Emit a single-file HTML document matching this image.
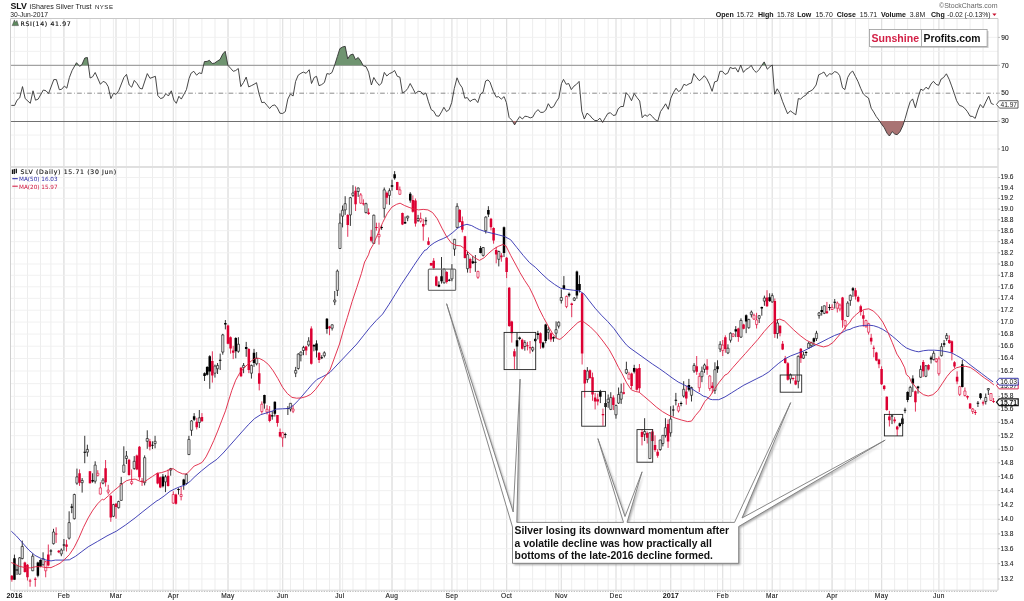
<!DOCTYPE html>
<html><head><meta charset="utf-8"><title>SLV iShares Silver Trust</title>
<style>html,body{margin:0;padding:0;background:#fff}body{width:1024px;height:601px;overflow:hidden}</style></head>
<body>
<svg width="1024" height="601" viewBox="0 0 1024 601" style="display:block">
<rect width="1024" height="601" fill="#fff"/>
<path d="M14.4 18.5V590.2M27.5 18.5V590.2M40.5 18.5V590.2M50.9 18.5V590.2M63.9 18.5V590.2M76.9 18.5V590.2M90.0 18.5V590.2M100.4 18.5V590.2M113.4 18.5V590.2M126.4 18.5V590.2M139.4 18.5V590.2M152.5 18.5V590.2M162.9 18.5V590.2M175.9 18.5V590.2M188.9 18.5V590.2M201.9 18.5V590.2M215.0 18.5V590.2M228.0 18.5V590.2M241.0 18.5V590.2M254.0 18.5V590.2M267.0 18.5V590.2M280.1 18.5V590.2M290.5 18.5V590.2M303.5 18.5V590.2M316.5 18.5V590.2M329.5 18.5V590.2M342.6 18.5V590.2M353.0 18.5V590.2M366.0 18.5V590.2M379.0 18.5V590.2M392.0 18.5V590.2M405.1 18.5V590.2M418.1 18.5V590.2M431.1 18.5V590.2M444.1 18.5V590.2M457.1 18.5V590.2M467.5 18.5V590.2M480.6 18.5V590.2M493.6 18.5V590.2M506.6 18.5V590.2M519.6 18.5V590.2M532.6 18.5V590.2M545.7 18.5V590.2M558.7 18.5V590.2M571.7 18.5V590.2M584.7 18.5V590.2M597.7 18.5V590.2M608.2 18.5V590.2M621.2 18.5V590.2M634.2 18.5V590.2M647.2 18.5V590.2M660.2 18.5V590.2M670.7 18.5V590.2M681.1 18.5V590.2M694.1 18.5V590.2M704.5 18.5V590.2M717.5 18.5V590.2M730.6 18.5V590.2M743.6 18.5V590.2M756.6 18.5V590.2M767.0 18.5V590.2M780.0 18.5V590.2M793.0 18.5V590.2M806.1 18.5V590.2M819.1 18.5V590.2M832.1 18.5V590.2M845.1 18.5V590.2M855.5 18.5V590.2M868.6 18.5V590.2M881.6 18.5V590.2M894.6 18.5V590.2M907.6 18.5V590.2M920.6 18.5V590.2M933.7 18.5V590.2M944.1 18.5V590.2M957.1 18.5V590.2M970.1 18.5V590.2M983.1 18.5V590.2" stroke="#ebebeb" stroke-width="0.9" fill="none"/>
<path d="M63.9 18.5V590.2M116.0 18.5V590.2M173.3 18.5V590.2M228.0 18.5V590.2M282.7 18.5V590.2M339.9 18.5V590.2M392.0 18.5V590.2M451.9 18.5V590.2M506.6 18.5V590.2M561.3 18.5V590.2M616.0 18.5V590.2M670.7 18.5V590.2M722.7 18.5V590.2M772.2 18.5V590.2M832.1 18.5V590.2M881.6 18.5V590.2M938.9 18.5V590.2" stroke="#e0e0e0" stroke-width="1.2" fill="none"/>
<path d="M10.5 579.0H998.0M10.5 563.7H998.0M10.5 548.7H998.0M10.5 533.9H998.0M10.5 519.3H998.0M10.5 504.8H998.0M10.5 490.6H998.0M10.5 476.6H998.0M10.5 462.8H998.0M10.5 449.2H998.0M10.5 435.7H998.0M10.5 422.4H998.0M10.5 409.3H998.0M10.5 396.4H998.0M10.5 383.6H998.0M10.5 371.0H998.0M10.5 358.5H998.0M10.5 346.2H998.0M10.5 334.1H998.0M10.5 322.1H998.0M10.5 310.2H998.0M10.5 298.4H998.0M10.5 286.8H998.0M10.5 275.3H998.0M10.5 264.0H998.0M10.5 252.8H998.0M10.5 241.7H998.0M10.5 230.7H998.0M10.5 219.8H998.0M10.5 209.1H998.0M10.5 198.4H998.0M10.5 187.9H998.0M10.5 177.5H998.0" stroke="#efefef" stroke-width="0.9" fill="none"/>
<path d="M10.5 149.0H998.0M10.5 135.1H998.0M10.5 107.2H998.0M10.5 79.2H998.0M10.5 51.4H998.0M10.5 37.4H998.0" stroke="#efefef" stroke-width="0.9" fill="none"/>
<path d="M10.5 65.3H998.0" stroke="#a2a2a2" stroke-width="1.2" fill="none"/>
<path d="M10.5 121.5H998.0" stroke="#707070" stroke-width="1" fill="none"/>
<path d="M10.5 93.2H998.0" stroke="#8c8c8c" stroke-width="1" stroke-dasharray="4.7 2.3 0.8 2.3" stroke-dashoffset="4.1" fill="none"/>
<path d="M10.5 18.5H998.0" stroke="#c8c8c8" stroke-width="1" fill="none"/>
<path d="M10.5 18.5V590.2M998.0 18.5V590.2" stroke="#cfcfcf" stroke-width="1" fill="none"/>
<path d="M10.5 167H998.0" stroke="#e0e0e0" stroke-width="2" fill="none"/>
<path d="M10.5 590.2H998.0" stroke="#d6d6d6" stroke-width="1" fill="none"/>
<path d="M13.80 591.4H998.0" stroke="#b0b0b0" stroke-width="0.9" stroke-dasharray="1.3 1.304" fill="none"/>
<path d="M998.0 579.0h2M998.0 563.7h2M998.0 548.7h2M998.0 533.9h2M998.0 519.3h2M998.0 504.8h2M998.0 490.6h2M998.0 476.6h2M998.0 462.8h2M998.0 449.2h2M998.0 435.7h2M998.0 422.4h2M998.0 409.3h2M998.0 396.4h2M998.0 383.6h2M998.0 371.0h2M998.0 358.5h2M998.0 346.2h2M998.0 334.1h2M998.0 322.1h2M998.0 310.2h2M998.0 298.4h2M998.0 286.8h2M998.0 275.3h2M998.0 264.0h2M998.0 252.8h2M998.0 241.7h2M998.0 230.7h2M998.0 219.8h2M998.0 209.1h2M998.0 198.4h2M998.0 187.9h2M998.0 177.5h2M998.0 149.0h2M998.0 121.1h2M998.0 93.2h2M998.0 65.3h2M998.0 37.4h2" stroke="#bbb" stroke-width="1" fill="none"/>
<path d="M75.0 65.3L76.5 62.7L78.7 65.3Z" fill="#6f9470"/>
<path d="M81.0 65.3L81.9 64.7L84.8 58.0L87.4 57.5L88.4 65.3Z" fill="#6f9470"/>
<path d="M203.6 65.3L204.4 61.6L207.1 61.4L209.4 60.3L212.2 63.5L214.6 63.1L217.4 61.1L220.0 59.5L222.7 54.1L225.2 51.3L227.9 65.3L227.9 65.3Z" fill="#6f9470"/>
<path d="M334.6 65.3L334.7 65.0L337.4 56.4L339.9 48.6L342.5 47.0L345.2 46.3L347.7 58.8L350.3 54.9L353.0 54.1L355.5 59.5L358.2 57.5L360.8 61.1L363.0 65.3Z" fill="#6f9470"/>
<path d="M740.6 65.3L740.7 65.0L740.8 65.3Z" fill="#6f9470"/>
<path d="M751.2 65.3L751.2 65.3L751.2 65.3Z" fill="#6f9470"/>
<path d="M761.8 65.3L764.2 61.9L765.6 65.3Z" fill="#6f9470"/>
<path d="M771.9 65.3L772.3 65.0L772.3 65.3Z" fill="#6f9470"/>
<path d="M512.4 121.1L514.6 124.9L516.8 121.1Z" fill="#a97373"/>
<path d="M601.8 121.1L602.6 122.4L603.3 121.1Z" fill="#a97373"/>
<path d="M879.6 121.1L881.4 123.9L884.2 127.6L887.0 133.2L889.4 136.0L892.2 131.7L894.8 134.1L897.2 134.7L900.0 131.7L902.8 125.8L904.3 121.1Z" fill="#a97373"/>
<path d="M11.3 105.4L14.7 105.4L17.0 100.2L19.7 97.9L22.5 86.6L25.2 98.6L30.3 103.3L33.0 90.8L35.5 100.2L38.2 99.1L43.3 90.0L46.0 90.8L48.6 93.5L53.8 79.6L56.4 79.6L59.3 89.7L61.6 89.3L64.4 86.1L66.8 88.2L69.4 77.5L72.1 70.5L76.5 62.7L79.6 66.3L81.9 64.7L84.8 58.0L87.4 57.5L90.1 78.0L92.6 76.8L95.2 72.5L100.4 84.3L103.1 81.4L105.7 82.5L108.2 86.6L110.9 98.6L113.5 93.2L116.0 94.4L118.7 90.8L123.9 77.5L126.5 74.4L129.2 85.0L131.7 87.2L134.3 80.4L137.0 83.5L139.8 88.2L142.2 89.0L147.3 73.6L150.0 78.3L155.4 76.3L157.8 95.5L160.6 98.6L163.3 97.6L165.9 93.5L168.4 96.0L171.3 90.8L173.9 100.2L176.3 103.3L178.9 96.3L181.3 99.1L184.1 94.0L186.4 89.7L189.1 78.3L191.1 73.2L193.8 71.3L196.6 75.2L199.2 72.8L201.7 73.6L204.4 61.6L207.1 61.4L209.4 60.3L212.2 63.5L214.6 63.1L217.4 61.1L220.0 59.5L222.7 54.1L225.2 51.3L227.9 65.3L230.5 68.2L233.3 71.3L235.7 70.5L238.3 68.5L240.8 86.6L243.5 82.5L246.2 77.1L248.7 86.9L251.3 85.7L254.0 84.3L256.5 82.7L259.1 94.0L261.8 102.6L264.3 102.2L267.0 105.4L269.6 108.5L272.1 105.7L274.8 104.9L277.4 108.0L279.9 113.2L282.6 113.5L285.3 111.6L287.8 99.1L290.4 94.0L293.1 96.0L295.6 81.4L298.2 75.2L300.9 73.3L303.4 72.1L306.1 73.3L309.2 69.7L311.5 83.5L314.2 77.5L316.5 76.3L319.0 85.7L321.7 84.6L324.4 82.5L326.9 73.6L329.5 74.1L332.0 72.5L334.7 65.0L337.4 56.4L339.9 48.6L342.5 47.0L345.2 46.3L347.7 58.8L350.3 54.9L353.0 54.1L355.5 59.5L358.2 57.5L360.8 61.1L363.3 65.8L366.0 66.6L368.6 72.1L371.4 85.0L373.8 77.5L376.4 81.9L379.3 85.4L381.6 83.0L384.3 72.4L386.8 76.0L389.4 73.6L392.1 72.5L394.6 70.5L397.3 76.3L399.9 77.2L402.4 92.9L405.1 91.6L407.7 88.5L410.2 83.5L412.9 88.5L415.5 93.6L418.1 91.3L420.7 91.6L423.4 94.7L425.9 92.9L428.5 101.8L431.2 109.6L433.7 111.2L436.3 115.9L439.0 116.2L441.5 111.9L443.9 107.3L446.5 111.6L449.2 109.6L451.7 102.6L454.3 88.5L457.0 77.8L459.5 83.8L462.2 87.7L464.8 98.2L467.3 97.6L470.0 101.5L472.6 99.7L475.1 99.1L477.8 102.6L480.5 94.0L483.0 92.4L485.6 81.0L488.0 79.9L490.0 82.2L493.4 91.6L496.3 97.1L498.6 96.6L501.3 99.1L504.1 96.6L506.4 102.6L509.1 117.4L511.9 120.2L514.6 124.9L517.1 120.5L519.7 116.6L522.4 119.0L524.9 116.2L527.5 116.6L530.2 117.9L532.7 117.1L535.4 112.3L538.0 109.6L540.5 112.4L543.2 112.3L545.8 110.1L548.3 103.7L551.0 108.0L553.7 106.5L556.2 101.8L558.8 97.9L561.5 83.5L563.5 79.4L566.2 84.3L568.7 83.5L571.3 89.6L574.0 86.1L576.5 84.3L579.1 81.4L581.8 111.2L584.3 119.0L587.0 113.2L589.6 115.1L592.1 118.2L594.8 120.5L597.4 120.5L599.9 118.2L602.6 122.4L605.3 117.7L607.8 113.5L610.4 112.7L613.1 115.4L615.6 115.1L618.2 108.8L620.9 106.5L623.4 106.5L626.1 92.7L628.7 95.5L631.5 100.7L634.2 93.5L637.0 97.6L639.7 101.0L642.2 117.7L644.8 114.8L647.2 116.3L649.5 114.3L650.0 114.3L652.7 116.9L655.2 119.8L657.8 121.0L660.5 111.6L663.0 108.0L665.6 103.8L668.3 109.3L670.8 98.2L673.5 92.4L676.1 88.2L678.6 91.6L681.3 89.7L683.9 84.3L686.4 85.4L689.1 83.8L691.4 83.0L693.8 73.6L696.4 77.2L699.3 80.7L701.6 78.8L704.3 75.7L706.8 78.8L709.4 84.1L712.1 91.3L714.6 81.9L717.3 81.0L719.9 71.3L722.4 71.3L725.1 74.4L727.7 73.2L730.2 67.4L732.9 68.6L735.5 67.8L738.1 72.1L740.7 65.0L743.4 72.4L745.9 69.4L748.5 68.2L751.2 65.3L753.7 70.0L756.3 72.4L759.0 69.7L761.5 65.8L764.2 61.9L767.3 69.2L770.0 66.6L772.3 65.0L774.6 94.3L777.2 88.8L779.8 93.2L782.5 101.3L785.0 107.6L787.6 113.8L790.3 110.8L792.8 112.7L795.8 114.8L798.3 98.6L800.6 99.1L803.3 96.6L805.9 95.1L808.0 92.1L810.0 91.3L812.8 89.6L816.1 85.0L818.7 74.8L821.5 73.5L823.9 72.0L826.7 76.6L829.5 73.8L831.9 74.2L834.7 71.6L837.3 72.5L839.7 75.7L842.5 87.8L844.9 89.6L847.7 77.5L850.3 72.9L852.7 71.1L855.5 76.6L857.9 81.3L860.7 88.3L863.3 93.9L865.7 96.1L868.5 98.0L871.2 108.2L873.6 111.9L876.2 116.5L879.0 120.2L881.4 123.9L884.2 127.6L887.0 133.2L889.4 136.0L892.2 131.7L894.8 134.1L897.2 134.7L900.0 131.7L902.8 125.8L905.2 118.4L907.8 109.1L910.2 101.7L912.6 98.9L915.4 107.8L918.2 97.0L920.8 89.1L923.2 90.5L926.0 87.2L928.4 89.1L931.0 84.0L933.4 81.3L936.2 84.4L938.6 85.3L941.2 79.0L943.6 77.5L946.4 73.8L949.2 79.4L951.6 85.9L954.2 93.3L956.6 100.7L959.4 105.4L962.2 106.3L964.6 108.2L967.2 111.3L970.0 116.1L972.7 116.5L975.2 118.4L977.9 110.0L980.3 104.5L983.1 107.8L985.9 101.7L988.7 96.1L991.3 103.5L993.7 104.5" stroke="#333" stroke-width="0.9" fill="none" stroke-linejoin="round"/>
<path d="M14.45 554.6V579.7M17.05 564.8V575.0M37.89 561.7V577.3M40.49 559.3V567.2M50.91 549.2V555.4M63.93 539.0V550.7M71.74 503.8V513.2M84.76 435.8V463.2M92.57 473.3V482.7M152.46 441.3V449.1M162.88 474.1V487.4M178.50 488.2V494.5M183.71 478.8V489.8M194.13 413.1V420.9M204.54 372.4V381.0M207.15 366.1V375.5M209.75 355.2V388.8M220.17 353.6V370.0M225.37 320.0V329.4M235.79 337.2V358.3M246.21 341.9V356.8M254.02 348.9V366.9M264.43 394.7V408.7M272.25 411.2V419.7M274.85 401.4V416.6M285.27 432.7V438.2M287.87 406.1V415.0M313.91 344.2V351.3M316.51 340.3V357.5M321.72 355.2V359.1M326.93 318.0V333.7M381.61 225.1V229.8M392.03 179.7V190.7M394.63 171.1V179.7M405.05 216.5V224.0M410.26 192.2V202.7M425.88 217.3V225.1M438.90 281.3V287.2M441.51 257.0V283.6M449.32 278.9V281.3M472.75 256.1V264.0M475.36 255.0V271.8M480.57 246.0V253.4M488.38 206.2V217.1M504.00 226.5V257.0M517.02 332.4V369.5M519.63 336.6V340.2M535.25 337.9V342.2M537.85 330.8V339.4M543.06 341.8V348.5M545.67 323.8V343.3M553.48 336.3V341.8M563.89 276.1V289.7M569.10 292.5V297.2M576.91 270.6V298.8M579.52 275.3V292.5M600.35 389.8V403.1M605.56 402.3V407.8M634.20 364.8V373.4M673.26 405.4V416.4M675.87 392.9V405.4M681.07 401.5V406.2M688.89 378.9V391.4M717.53 360.3V372.8M735.76 326.1V337.1M746.17 314.4V333.2M761.80 306.6V315.7M769.61 293.3V301.9M806.07 351.2V355.9M813.88 337.6V345.7M821.69 306.2V315.6M829.50 304.3V310.5M834.71 299.0V308.6M852.94 287.1V296.9M892.00 414.7V424.1M899.81 422.6V427.3M902.41 417.1V424.9M905.02 407.7V413.2M907.62 391.3V402.2M912.83 375.3V392.1M918.04 385.8V393.6M931.06 355.7V363.5M944.08 340.0V347.1M962.31 360.0V387.4M977.93 401.0V407.0M980.53 393.0V399.5" stroke="#000" stroke-width="0.8" fill="none"/>
<path d="M13.20 558.2h2.5V579.7h-2.5zM15.80 569.4h2.5V570.4h-2.5zM36.64 562.5h2.5V575.8h-2.5zM39.24 560.1h2.5V566.4h-2.5zM49.66 550.4h2.5V551.5h-2.5zM62.68 544.5h2.5V545.5h-2.5zM70.49 506.6h2.5V507.7h-2.5zM83.51 451.8h2.5V452.8h-2.5zM91.32 480.1h2.5V481.6h-2.5zM151.21 444.7h2.5V445.7h-2.5zM161.63 476.5h2.5V486.3h-2.5zM177.25 489.0h2.5V490.1h-2.5zM182.46 479.6h2.5V485.1h-2.5zM192.88 416.3h2.5V419.7h-2.5zM203.29 373.2h2.5V376.0h-2.5zM205.90 366.9h2.5V374.7h-2.5zM208.50 356.3h2.5V371.6h-2.5zM218.92 359.8h2.5V360.8h-2.5zM224.12 323.1h2.5V324.4h-2.5zM234.54 338.0h2.5V351.3h-2.5zM244.96 346.9h2.5V348.9h-2.5zM252.77 352.8h2.5V363.0h-2.5zM263.18 395.1h2.5V403.6h-2.5zM271.00 415.3h2.5V416.6h-2.5zM273.60 401.7h2.5V413.7h-2.5zM284.02 434.1h2.5V435.1h-2.5zM286.62 408.1h2.5V409.1h-2.5zM312.66 345.0h2.5V346.6h-2.5zM315.26 343.5h2.5V350.5h-2.5zM320.47 357.2h2.5V358.2h-2.5zM325.68 318.8h2.5V329.0h-2.5zM380.36 226.9h2.5V227.9h-2.5zM390.78 185.2h2.5V186.8h-2.5zM393.38 174.3h2.5V178.2h-2.5zM403.80 222.0h2.5V223.5h-2.5zM409.01 193.8h2.5V200.5h-2.5zM424.63 220.3h2.5V221.3h-2.5zM437.65 284.7h2.5V286.8h-2.5zM440.26 276.3h2.5V281.3h-2.5zM448.07 279.7h2.5V280.7h-2.5zM471.50 261.2h2.5V263.2h-2.5zM474.11 261.8h2.5V262.8h-2.5zM479.32 247.9h2.5V253.0h-2.5zM487.13 210.1h2.5V214.5h-2.5zM502.75 227.3h2.5V253.1h-2.5zM515.77 340.2h2.5V346.5h-2.5zM518.38 337.6h2.5V339.1h-2.5zM534.00 339.1h2.5V341.0h-2.5zM536.60 333.2h2.5V335.1h-2.5zM541.81 342.6h2.5V347.6h-2.5zM544.42 324.6h2.5V341.0h-2.5zM552.23 337.1h2.5V338.6h-2.5zM562.64 285.2h2.5V289.1h-2.5zM567.85 293.8h2.5V295.6h-2.5zM575.66 271.4h2.5V295.6h-2.5zM578.27 283.9h2.5V290.2h-2.5zM599.10 391.4h2.5V396.8h-2.5zM604.31 403.1h2.5V407.0h-2.5zM632.95 367.9h2.5V371.8h-2.5zM672.01 409.6h2.5V410.6h-2.5zM674.62 399.7h2.5V400.8h-2.5zM679.82 403.1h2.5V404.1h-2.5zM687.64 385.1h2.5V389.8h-2.5zM716.28 366.2h2.5V369.3h-2.5zM734.51 329.3h2.5V331.6h-2.5zM744.92 315.2h2.5V321.4h-2.5zM760.55 306.9h2.5V308.5h-2.5zM768.36 297.2h2.5V301.1h-2.5zM804.82 351.9h2.5V352.9h-2.5zM812.63 338.2h2.5V341.8h-2.5zM820.44 310.1h2.5V312.1h-2.5zM828.25 307.1h2.5V308.1h-2.5zM833.46 301.8h2.5V302.8h-2.5zM851.69 288.3h2.5V290.6h-2.5zM890.75 415.5h2.5V416.6h-2.5zM898.56 423.3h2.5V426.0h-2.5zM901.16 418.6h2.5V424.1h-2.5zM903.77 409.7h2.5V410.8h-2.5zM906.37 392.1h2.5V399.9h-2.5zM911.58 378.5h2.5V383.5h-2.5zM916.79 386.6h2.5V388.2h-2.5zM929.81 357.6h2.5V359.6h-2.5zM942.83 343.2h2.5V344.7h-2.5zM961.06 364.2h2.5V386.9h-2.5zM976.68 402.8h2.5V403.8h-2.5zM979.28 393.5h2.5V398.0h-2.5z" fill="#000"/>
<path d="M19.66 557.0V574.5M22.26 540.6V559.3M32.68 553.6V571.1M43.09 552.3V565.6M53.51 528.8V544.5M61.32 548.4V556.2M69.13 511.3V539.5M74.34 493.7V519.5M76.95 468.6V484.8M82.15 478.0V492.6M87.36 444.7V456.6M95.17 461.3V483.5M102.99 478.0V484.3M113.40 503.8V517.1M118.61 500.7V508.5M121.21 476.9V500.7M123.82 446.3V472.6M126.42 451.0V464.0M134.23 456.1V469.7M144.65 455.4V485.4M147.25 430.3V448.8M155.07 435.8V448.3M165.48 474.9V492.1M170.69 467.9V475.7M186.31 473.3V484.8M188.92 435.8V455.0M191.52 420.2V435.8M199.33 410.0V428.0M214.96 364.6V377.6M217.56 363.0V374.0M222.77 333.8V354.7M238.39 337.2V352.8M243.60 363.0V373.2M251.41 364.6V378.6M256.62 352.1V365.4M290.47 403.0V411.5M295.68 366.9V377.1M298.29 353.2V369.7M300.89 351.3V361.4M303.49 345.8V355.2M308.70 337.2V346.6M324.33 351.3V357.5M332.14 324.3V330.5M334.74 291.0V305.1M337.35 269.5V296.1M339.95 213.4V249.0M342.55 205.5V227.4M345.16 196.2V214.9M350.37 196.9V225.9M352.97 185.2V196.9M358.18 187.5V196.9M365.99 202.7V213.4M373.80 214.6V243.9M384.22 187.5V217.7M389.43 188.3V204.8M407.65 215.7V221.2M418.07 214.9V222.0M444.11 268.5V283.6M451.92 264.1V281.3M454.53 238.9V255.8M457.13 203.2V228.2M467.55 251.8V272.6M483.17 247.2V256.5M485.77 216.3V233.5M498.79 250.7V266.4M524.83 340.2V350.7M532.65 346.5V351.9M548.27 326.9V339.4M556.08 321.4V338.6M558.69 321.4V328.5M561.29 289.4V303.5M574.31 297.2V301.1M587.33 367.1V382.8M608.16 394.5V407.8M610.77 392.2V410.1M615.97 404.7V418.7M618.58 387.5V403.9M621.18 383.5V403.9M626.39 361.7V374.2M644.62 418.2V441.0M649.83 432.4V458.8M660.24 439.7V450.8M662.85 435.0V446.4M665.45 418.2V437.5M670.66 406.2V436.7M683.68 381.2V397.6M691.49 386.7V401.5M694.09 363.1V372.8M701.91 366.6V382.2M704.51 363.5V372.8M714.93 362.3V393.9M720.13 341.2V352.1M727.95 344.3V354.1M730.55 332.4V342.6M740.97 318.3V337.9M748.78 318.8V328.8M751.38 310.5V317.5M759.19 315.2V323.0M764.40 295.6V305.8M772.21 293.3V302.7M777.42 319.4V338.6M790.44 373.5V383.6M798.25 355.5V388.3M803.46 351.9V359.0M808.67 341.8V348.8M811.27 341.8V347.3M816.48 330.8V341.0M819.09 312.1V318.7M824.29 305.5V314.1M847.73 301.2V316.8M850.33 294.5V305.8M910.23 385.8V396.8M920.64 365.5V378.0M925.85 365.0V377.2M933.66 351.0V360.4M941.47 343.2V356.5M946.68 333.0V340.8M985.74 393.5V404.5M988.35 388.2V395.0" stroke="#000" stroke-width="0.8" fill="none"/>
<path d="M18.56 557.8h2.2V574.2h-2.2zM21.16 546.4h2.2V558.6h-2.2zM31.58 556.2h2.2V570.8h-2.2zM41.99 558.6h2.2V564.8h-2.2zM52.41 532.0h2.2V543.7h-2.2zM60.22 550.0h2.2V553.9h-2.2zM68.03 522.6h2.2V538.2h-2.2zM73.24 494.5h2.2V518.7h-2.2zM75.85 476.9h2.2V483.2h-2.2zM81.05 480.4h2.2V482.7h-2.2zM86.26 449.4h2.2V452.2h-2.2zM94.07 465.1h2.2V481.2h-2.2zM101.89 480.1h2.2V483.2h-2.2zM112.30 504.6h2.2V516.3h-2.2zM117.51 501.5h2.2V507.7h-2.2zM120.11 483.5h2.2V500.4h-2.2zM122.72 465.1h2.2V472.2h-2.2zM125.32 456.1h2.2V458.5h-2.2zM133.13 461.3h2.2V468.6h-2.2zM143.55 457.7h2.2V482.7h-2.2zM146.15 438.5h2.2V441.3h-2.2zM153.97 441.3h2.2V443.6h-2.2zM164.38 476.9h2.2V481.9h-2.2zM169.59 468.6h2.2V470.2h-2.2zM185.21 474.4h2.2V483.5h-2.2zM187.82 439.4h2.2V454.6h-2.2zM190.42 420.9h2.2V430.3h-2.2zM198.23 417.8h2.2V422.5h-2.2zM213.86 366.1h2.2V373.2h-2.2zM216.46 365.4h2.2V368.8h-2.2zM221.67 334.9h2.2V352.1h-2.2zM237.29 344.2h2.2V351.3h-2.2zM242.50 365.4h2.2V367.7h-2.2zM250.31 365.4h2.2V373.2h-2.2zM255.52 358.3h2.2V363.8h-2.2zM289.37 403.3h2.2V409.0h-2.2zM294.58 370.4h2.2V373.2h-2.2zM297.19 354.1h2.2V368.5h-2.2zM299.79 352.1h2.2V355.2h-2.2zM302.39 347.4h2.2V350.5h-2.2zM307.60 341.1h2.2V345.0h-2.2zM323.23 352.8h2.2V355.7h-2.2zM331.04 324.8h2.2V328.2h-2.2zM333.64 300.0h2.2V301.9h-2.2zM336.25 271.1h2.2V290.4h-2.2zM338.85 223.1h2.2V248.5h-2.2zM341.45 210.2h2.2V216.2h-2.2zM344.06 203.7h2.2V209.9h-2.2zM349.27 197.7h2.2V214.9h-2.2zM351.87 193.0h2.2V195.4h-2.2zM357.08 188.0h2.2V191.5h-2.2zM364.89 203.7h2.2V212.6h-2.2zM372.70 215.2h2.2V243.4h-2.2zM383.12 189.9h2.2V208.4h-2.2zM388.33 190.7h2.2V195.4h-2.2zM406.55 216.2h2.2V218.0h-2.2zM416.97 218.4h2.2V220.4h-2.2zM443.01 269.1h2.2V282.8h-2.2zM450.82 269.1h2.2V278.9h-2.2zM453.43 239.3h2.2V249.1h-2.2zM456.03 206.3h2.2V227.4h-2.2zM466.45 254.6h2.2V268.7h-2.2zM482.07 247.5h2.2V255.4h-2.2zM484.67 217.1h2.2V230.7h-2.2zM497.69 251.5h2.2V259.3h-2.2zM523.73 342.6h2.2V346.5h-2.2zM531.55 347.6h2.2V350.1h-2.2zM547.17 329.7h2.2V332.4h-2.2zM554.98 329.7h2.2V333.2h-2.2zM557.59 322.2h2.2V326.1h-2.2zM560.19 297.5h2.2V300.6h-2.2zM573.21 298.0h2.2V300.3h-2.2zM586.23 371.0h2.2V379.6h-2.2zM607.06 399.2h2.2V402.3h-2.2zM609.67 397.6h2.2V409.4h-2.2zM614.87 405.4h2.2V414.8h-2.2zM617.48 394.5h2.2V403.1h-2.2zM620.08 392.2h2.2V399.2h-2.2zM625.29 369.5h2.2V373.1h-2.2zM643.52 431.5h2.2V434.3h-2.2zM648.73 432.8h2.2V458.6h-2.2zM659.14 440.0h2.2V449.5h-2.2zM661.75 435.3h2.2V443.5h-2.2zM664.35 427.7h2.2V435.6h-2.2zM669.56 419.1h2.2V432.8h-2.2zM682.58 389.3h2.2V396.1h-2.2zM690.39 387.5h2.2V395.3h-2.2zM692.99 365.4h2.2V370.9h-2.2zM700.81 371.3h2.2V376.7h-2.2zM703.41 365.0h2.2V369.3h-2.2zM713.83 369.7h2.2V390.4h-2.2zM719.03 344.3h2.2V349.0h-2.2zM726.85 348.2h2.2V352.9h-2.2zM729.45 333.2h2.2V340.2h-2.2zM739.87 320.4h2.2V337.1h-2.2zM747.68 319.4h2.2V327.7h-2.2zM750.28 312.1h2.2V314.7h-2.2zM758.09 315.7h2.2V318.3h-2.2zM763.30 298.0h2.2V301.1h-2.2zM771.11 295.6h2.2V301.9h-2.2zM776.32 323.0h2.2V333.5h-2.2zM789.34 374.7h2.2V378.9h-2.2zM797.15 356.3h2.2V381.3h-2.2zM802.36 354.8h2.2V358.2h-2.2zM807.57 343.3h2.2V348.0h-2.2zM810.17 342.6h2.2V345.7h-2.2zM815.38 333.2h2.2V338.6h-2.2zM817.99 312.9h2.2V315.6h-2.2zM823.19 305.8h2.2V313.3h-2.2zM846.63 303.1h2.2V316.4h-2.2zM849.23 295.3h2.2V300.4h-2.2zM909.13 387.4h2.2V396.3h-2.2zM919.54 369.4h2.2V377.2h-2.2zM924.75 365.8h2.2V376.3h-2.2zM932.56 353.3h2.2V359.6h-2.2zM940.37 346.6h2.2V355.7h-2.2zM945.58 335.4h2.2V338.5h-2.2zM984.64 397.5h2.2V401.5h-2.2zM987.25 388.5h2.2V390.0h-2.2z" fill="#fff" stroke="#000" stroke-width="0.7" opacity="0.85"/>
<path d="M11.85 575.0V581.7M24.87 561.7V572.6M27.47 564.0V580.5M30.07 578.9V586.7M35.28 577.3V586.7M48.30 544.5V566.4M56.11 527.3V542.9M58.72 550.0V553.1M66.53 539.8V551.5M79.55 469.4V485.9M89.97 471.0V483.5M105.59 460.0V486.6M110.80 495.2V521.8M116.01 503.0V518.7M129.03 458.8V475.7M136.84 454.6V470.2M139.44 446.0V480.4M142.05 478.0V485.9M149.86 438.9V450.4M157.67 472.6V484.3M160.27 476.5V488.2M168.09 469.4V486.6M175.90 493.7V504.6M196.73 417.8V429.5M201.94 413.1V421.7M212.35 351.3V382.6M227.98 324.7V344.2M230.58 336.4V353.6M233.19 345.8V359.1M241.00 366.9V377.1M248.81 348.2V373.2M259.23 363.0V390.4M269.64 406.1V422.3M277.45 415.0V426.7M280.06 428.5V437.4M306.10 345.8V355.2M311.31 326.3V364.6M319.12 352.1V363.0M329.53 325.9V335.2M347.76 214.1V236.8M355.57 186.5V211.0M363.39 199.3V205.5M368.59 208.4V214.9M371.20 229.8V242.3M376.41 222.7V230.6M386.82 191.5V204.3M397.24 181.8V190.2M402.45 212.6V225.1M412.86 195.4V212.6M415.47 198.5V226.6M423.28 218.8V240.7M428.49 237.4V245.2M431.09 262.8V265.9M433.69 258.1V269.8M436.30 275.8V286.3M446.71 271.1V283.6M459.73 209.0V222.7M462.34 216.5V232.4M464.94 235.8V258.5M470.15 257.7V273.0M490.98 217.9V230.4M493.59 227.3V243.7M496.19 246.8V263.3M501.40 253.1V261.7M506.61 257.0V278.1M509.21 287.0V326.9M511.81 320.7V342.6M514.42 348.8V369.1M522.23 338.6V349.6M527.44 341.8V350.4M530.04 341.0V353.5M540.46 332.4V348.8M550.87 332.4V341.8M571.71 302.7V317.2M582.12 292.5V364.5M584.73 369.5V397.6M589.93 369.5V378.9M592.54 372.6V400.8M595.14 392.9V409.4M597.75 393.7V405.4M602.95 408.6V425.8M613.37 395.3V410.1M623.79 382.8V394.5M631.60 372.6V389.0M636.81 367.9V390.6M639.41 364.0V392.2M642.01 429.3V445.4M647.22 431.5V443.5M652.43 429.0V441.3M655.03 435.3V451.7M657.64 449.2V457.7M668.05 419.5V447.9M686.28 385.9V404.7M696.70 356.0V374.8M707.11 359.2V374.8M712.32 382.2V393.2M725.34 335.3V352.7M738.36 327.7V341.8M743.57 323.8V329.3M767.01 290.2V306.9M774.82 298.5V337.9M780.03 325.4V336.3M782.63 341.0V350.1M785.23 355.9V363.7M787.84 362.1V380.6M793.05 377.4V380.5M795.65 375.8V385.2M800.86 348.0V362.9M826.90 301.9V313.7M842.52 296.9V327.7M855.54 287.9V299.6M858.15 295.7V302.3M860.75 304.7V315.6M863.35 310.5V326.6M871.17 333.8V344.7M873.77 345.5V357.3M876.37 351.8V361.2M878.98 358.8V368.2M881.58 366.3V385.0M884.19 385.0V390.5M886.79 396.3V410.8M889.39 410.8V426.5M894.60 417.1V423.3M897.21 425.7V435.9M915.43 390.5V411.6M923.25 360.0V376.9M928.45 364.2V370.5M949.29 335.4V344.0M951.89 340.4V360.4M954.49 361.2V368.2M957.10 371.3V384.2M967.51 395.5V399.5M970.12 403.0V409.0M975.33 410.0V415.0M983.14 400.5V405.5M993.55 398.0V403.0" stroke="#dc0032" stroke-width="0.8" fill="none"/>
<path d="M10.60 575.8h2.5V579.7h-2.5zM23.62 562.5h2.5V571.9h-2.5zM26.22 564.8h2.5V577.3h-2.5zM28.82 580.4h2.5V581.4h-2.5zM34.03 578.7h2.5V579.7h-2.5zM47.05 554.6h2.5V565.6h-2.5zM54.86 533.5h2.5V534.5h-2.5zM57.47 550.7h2.5V552.3h-2.5zM65.28 544.5h2.5V546.8h-2.5zM78.30 473.3h2.5V482.7h-2.5zM88.72 471.3h2.5V483.2h-2.5zM104.34 468.2h2.5V482.3h-2.5zM109.55 495.7h2.5V517.6h-2.5zM114.76 503.8h2.5V506.9h-2.5zM127.78 459.7h2.5V474.9h-2.5zM135.59 455.4h2.5V469.4h-2.5zM138.19 446.8h2.5V477.3h-2.5zM140.80 480.7h2.5V481.7h-2.5zM148.61 441.3h2.5V446.8h-2.5zM156.42 473.3h2.5V483.5h-2.5zM159.02 477.3h2.5V487.4h-2.5zM166.84 475.7h2.5V485.9h-2.5zM174.65 494.5h2.5V503.8h-2.5zM195.48 421.7h2.5V427.2h-2.5zM200.69 417.0h2.5V421.3h-2.5zM211.10 361.0h2.5V375.5h-2.5zM226.73 325.5h2.5V343.8h-2.5zM229.33 337.2h2.5V348.5h-2.5zM231.94 350.5h2.5V352.8h-2.5zM239.75 367.7h2.5V376.3h-2.5zM247.56 348.9h2.5V370.0h-2.5zM257.98 373.2h2.5V383.8h-2.5zM268.39 414.4h2.5V421.0h-2.5zM276.20 415.0h2.5V422.9h-2.5zM278.81 431.9h2.5V436.6h-2.5zM304.85 346.6h2.5V350.5h-2.5zM310.06 328.6h2.5V363.8h-2.5zM317.87 352.8h2.5V359.9h-2.5zM328.28 326.6h2.5V328.2h-2.5zM346.51 214.9h2.5V225.1h-2.5zM354.32 190.7h2.5V204.3h-2.5zM362.14 203.2h2.5V204.3h-2.5zM367.34 212.6h2.5V214.1h-2.5zM369.95 236.8h2.5V240.7h-2.5zM375.16 226.9h2.5V227.9h-2.5zM385.57 192.7h2.5V197.7h-2.5zM395.99 182.1h2.5V189.9h-2.5zM401.20 213.0h2.5V224.6h-2.5zM411.61 200.1h2.5V211.8h-2.5zM414.22 200.5h2.5V223.5h-2.5zM422.03 224.0h2.5V226.6h-2.5zM427.24 241.3h2.5V244.8h-2.5zM429.84 263.0h2.5V265.5h-2.5zM432.44 260.8h2.5V268.3h-2.5zM435.05 276.6h2.5V285.7h-2.5zM445.46 271.9h2.5V282.1h-2.5zM458.48 209.9h2.5V222.0h-2.5zM461.09 221.2h2.5V229.8h-2.5zM463.69 236.2h2.5V258.1h-2.5zM468.90 258.9h2.5V268.3h-2.5zM489.73 218.7h2.5V227.3h-2.5zM492.34 228.1h2.5V240.6h-2.5zM494.94 250.0h2.5V254.6h-2.5zM500.15 255.4h2.5V257.3h-2.5zM505.36 257.8h2.5V271.9h-2.5zM507.96 287.8h2.5V326.1h-2.5zM510.56 321.4h2.5V333.2h-2.5zM513.17 351.2h2.5V356.6h-2.5zM520.98 339.7h2.5V348.8h-2.5zM526.19 345.3h2.5V346.3h-2.5zM528.79 347.2h2.5V348.2h-2.5zM539.21 333.2h2.5V343.3h-2.5zM549.62 333.2h2.5V339.4h-2.5zM570.46 303.5h2.5V305.0h-2.5zM580.87 293.3h2.5V353.5h-2.5zM583.48 369.9h2.5V383.5h-2.5zM588.68 370.3h2.5V378.1h-2.5zM591.29 377.3h2.5V394.5h-2.5zM593.89 397.6h2.5V401.5h-2.5zM596.50 399.2h2.5V401.5h-2.5zM601.70 414.0h2.5V415.3h-2.5zM612.12 397.6h2.5V405.0h-2.5zM622.54 392.2h2.5V393.7h-2.5zM630.35 373.4h2.5V385.9h-2.5zM635.56 368.7h2.5V389.8h-2.5zM638.16 367.9h2.5V388.2h-2.5zM640.76 432.1h2.5V436.9h-2.5zM645.97 433.1h2.5V437.8h-2.5zM651.18 431.5h2.5V441.0h-2.5zM653.78 445.1h2.5V450.1h-2.5zM656.39 451.7h2.5V455.8h-2.5zM666.80 423.9h2.5V441.6h-2.5zM685.03 391.4h2.5V398.4h-2.5zM695.45 366.2h2.5V371.7h-2.5zM705.86 366.2h2.5V369.7h-2.5zM711.07 385.7h2.5V388.1h-2.5zM724.09 337.3h2.5V349.0h-2.5zM737.11 328.5h2.5V337.1h-2.5zM742.32 324.6h2.5V328.8h-2.5zM765.76 297.5h2.5V306.3h-2.5zM773.57 301.1h2.5V334.0h-2.5zM778.78 325.7h2.5V333.2h-2.5zM781.38 343.8h2.5V349.6h-2.5zM783.98 358.2h2.5V362.9h-2.5zM786.59 363.2h2.5V379.8h-2.5zM791.80 378.1h2.5V379.1h-2.5zM794.40 380.5h2.5V384.4h-2.5zM799.61 348.8h2.5V358.2h-2.5zM825.65 311.3h2.5V313.3h-2.5zM841.27 297.6h2.5V320.3h-2.5zM854.29 290.2h2.5V296.5h-2.5zM856.90 296.9h2.5V301.5h-2.5zM859.50 306.2h2.5V312.1h-2.5zM862.10 315.2h2.5V318.7h-2.5zM869.92 337.7h2.5V341.6h-2.5zM872.52 347.8h2.5V348.8h-2.5zM875.12 352.6h2.5V360.4h-2.5zM877.73 359.6h2.5V364.3h-2.5zM880.33 369.1h2.5V384.2h-2.5zM882.94 385.8h2.5V388.9h-2.5zM885.54 396.8h2.5V410.0h-2.5zM888.14 416.6h2.5V420.2h-2.5zM893.35 419.4h2.5V421.3h-2.5zM895.96 426.5h2.5V429.6h-2.5zM914.18 391.3h2.5V402.2h-2.5zM922.00 361.9h2.5V371.3h-2.5zM927.20 365.0h2.5V369.4h-2.5zM948.04 340.0h2.5V342.9h-2.5zM950.64 341.3h2.5V352.6h-2.5zM953.24 362.3h2.5V366.6h-2.5zM955.85 376.7h2.5V381.4h-2.5zM966.26 396.0h2.5V397.5h-2.5zM968.87 403.5h2.5V408.5h-2.5zM974.08 411.9h2.5V412.9h-2.5zM981.89 402.2h2.5V403.5h-2.5zM992.30 401.0h2.5V402.0h-2.5z" fill="#dc0032"/>
<path d="M45.70 560.9V577.3M97.78 470.2V476.5M100.38 482.3V494.5M108.19 484.8V494.5M131.63 469.4V485.1M173.29 491.3V503.8M181.11 486.6V500.4M261.83 401.4V413.7M267.04 405.2V414.4M282.66 431.9V446.8M293.08 405.2V413.1M360.78 193.0V204.0M379.01 222.7V244.6M399.84 186.5V194.9M420.67 212.6V222.7M477.96 270.8V278.9M566.50 295.6V308.2M628.99 371.8V379.6M678.47 403.1V412.5M699.30 372.8V392.0M709.72 375.2V390.8M722.74 340.0V356.0M733.15 333.2V337.1M753.99 313.6V319.9M756.59 312.8V328.5M832.11 304.3V310.1M837.31 301.5V312.5M839.92 303.5V311.3M845.13 319.9V329.7M865.96 319.7V327.5M868.56 322.8V334.6M936.27 358.0V362.7M938.87 356.5V375.7M959.70 385.8V396.0M964.91 387.5V396.5M972.72 408.0V414.0M990.95 393.0V401.0" stroke="#dc0032" stroke-width="0.8" fill="none"/>
<path d="M44.60 561.7h2.2V570.8h-2.2zM96.68 473.3h2.2V475.4h-2.2zM99.28 487.9h2.2V494.1h-2.2zM107.09 490.1h2.2V492.1h-2.2zM130.53 481.6h2.2V483.5h-2.2zM172.19 494.5h2.2V503.1h-2.2zM180.01 494.5h2.2V496.5h-2.2zM260.73 404.2h2.2V411.5h-2.2zM265.94 409.3h2.2V412.1h-2.2zM281.56 432.7h2.2V437.8h-2.2zM291.98 409.0h2.2V411.2h-2.2zM359.68 194.9h2.2V203.2h-2.2zM377.91 234.5h2.2V236.8h-2.2zM398.74 189.9h2.2V194.3h-2.2zM419.57 218.4h2.2V221.2h-2.2zM476.86 271.4h2.2V277.3h-2.2zM565.40 296.4h2.2V306.6h-2.2zM627.89 374.2h2.2V378.9h-2.2zM677.37 406.2h2.2V410.9h-2.2zM698.20 376.4h2.2V387.7h-2.2zM708.62 376.0h2.2V388.5h-2.2zM721.64 345.1h2.2V350.6h-2.2zM732.05 334.0h2.2V336.3h-2.2zM752.89 315.2h2.2V319.1h-2.2zM755.49 319.9h2.2V324.6h-2.2zM831.01 307.4h2.2V309.5h-2.2zM836.21 303.1h2.2V308.2h-2.2zM838.82 305.1h2.2V309.0h-2.2zM844.03 320.7h2.2V325.8h-2.2zM864.86 320.5h2.2V326.8h-2.2zM867.46 323.6h2.2V332.2h-2.2zM935.17 358.8h2.2V361.6h-2.2zM937.77 358.8h2.2V373.7h-2.2zM958.60 386.6h2.2V394.4h-2.2zM963.81 391.0h2.2V395.5h-2.2zM971.62 409.0h2.2V411.5h-2.2zM989.85 393.5h2.2V400.5h-2.2z" fill="#fff" stroke="#dc0032" stroke-width="0.7" opacity="0.85"/>
<path d="M11.3 531.2L16.3 535.9L22.5 542.9L28.8 550.0L35.0 555.4L41.3 558.6L47.5 560.4L51.0 560.9L55.4 560.1L63.2 560.1L69.4 559.8L75.7 556.2L81.9 551.5L88.2 546.8L97.6 541.4L107.0 535.9L116.3 531.2L125.7 524.9L135.1 517.9L142.9 511.6L150.8 505.4L157.0 500.7L158.6 499.9L164.1 496.0L170.0 491.3L174.7 489.0L179.4 486.9L185.6 484.8L190.3 481.2L195.0 476.5L201.3 471.0L209.1 464.7L216.9 459.3L223.2 453.0L229.4 446.0L235.7 438.9L241.9 431.9L248.2 424.9L254.5 418.6L260.7 414.7L267.0 412.8L273.2 410.8L276.3 409.1L282.6 408.8L288.9 408.4L293.6 405.2L298.2 400.5L302.9 395.1L307.6 389.6L312.3 384.1L317.0 379.4L321.7 377.1L326.4 374.7L330.0 372.4L356.8 344.0L363.8 335.2L370.0 327.4L376.3 320.4L382.6 314.1L388.8 304.7L395.1 294.6L401.3 284.4L407.6 275.0L413.8 265.6L416.2 262.0L420.1 256.4L424.8 250.1L426.3 250.0L429.5 246.2L434.2 242.8L438.9 240.3L443.6 238.4L448.2 236.0L452.9 232.4L457.6 228.2L462.3 225.6L467.0 224.3L470.0 225.2L471.7 225.6L474.7 227.3L476.4 228.2L479.4 229.6L485.6 231.7L491.9 233.2L498.2 234.8L504.4 236.4L510.7 239.8L516.9 247.6L523.2 255.4L529.4 262.5L535.7 267.6L541.9 273.9L548.2 279.7L554.5 284.4L560.7 288.3L567.0 289.4L573.2 290.2L579.5 290.9L584.2 294.1L588.9 300.3L595.1 308.2L601.4 315.2L607.6 321.4L613.9 328.5L620.1 337.1L626.4 344.9L630.0 348.0L652.4 364.0L659.5 368.7L665.7 373.1L672.0 377.8L678.2 382.0L684.5 385.1L690.8 388.2L697.0 392.2L700.0 393.8L703.3 396.1L706.3 396.9L710.0 399.2L712.5 399.7L718.8 399.7L725.0 396.9L731.3 393.0L737.5 389.1L743.8 385.2L750.0 382.1L756.3 378.9L762.6 375.8L768.8 371.9L771.9 369.1L778.2 363.7L784.5 359.0L790.7 355.9L797.0 353.5L803.2 351.2L809.5 348.0L815.7 344.9L822.0 341.8L828.2 338.6L834.5 335.5L840.8 333.2L847.0 330.0L850.0 329.4L853.3 327.7L859.4 326.0L864.1 325.5L868.8 325.2L873.5 325.7L878.2 327.2L882.8 329.4L887.5 332.5L892.2 336.1L896.9 340.0L901.6 344.4L906.3 347.9L911.0 349.9L915.7 351.3L918.8 351.8L923.5 350.7L928.2 350.2L934.5 350.2L940.7 350.7L947.0 351.8L951.7 352.9L956.3 355.4L961.0 358.0L965.7 361.2L968.9 363.9L975.1 368.6L981.4 373.3L987.6 378.0L993.1 381.9" stroke="#3030b0" stroke-width="0.9" fill="none" stroke-linejoin="round"/>
<path d="M11.3 562.5L14.7 564.0L19.4 566.4L25.6 567.6L30.3 567.9L35.8 566.7L41.3 566.7L46.0 567.6L51.0 567.6L55.4 565.6L60.0 563.3L64.7 559.3L69.4 554.6L74.1 547.6L78.8 538.2L83.5 527.3L88.2 517.9L92.9 510.1L97.6 503.8L102.3 499.1L103.8 499.9L108.5 495.7L113.2 491.3L117.9 487.4L122.6 483.5L126.5 480.7L130.4 479.6L135.1 479.1L139.8 481.2L143.7 482.3L147.6 479.6L152.3 476.5L157.0 473.3L161.7 472.6L166.4 471.0L170.0 469.4L173.1 468.6L177.8 471.8L182.5 473.8L186.4 474.1L190.3 470.2L194.2 466.0L198.2 464.4L202.1 462.4L206.0 456.9L209.9 449.1L213.8 440.5L217.7 431.1L221.6 420.9L225.5 410.8L227.9 402.9L231.8 390.4L235.7 380.2L239.6 373.2L243.5 368.5L247.4 364.6L251.3 361.0L255.2 358.3L259.1 358.3L263.8 360.7L268.5 364.6L273.2 370.8L277.9 378.6L282.6 387.3L287.3 393.5L292.0 397.4L296.7 398.2L301.4 397.9L306.1 396.6L310.8 394.3L315.4 389.6L320.1 383.3L324.8 377.1L330.0 370.0L339.5 344.0L343.5 329.8L347.4 317.3L352.1 301.6L356.8 287.5L361.4 273.5L364.6 262.0L366.1 259.4L368.5 254.8L370.0 250.0L373.2 244.6L377.9 233.7L382.6 222.7L387.3 213.4L391.9 207.1L396.6 204.3L400.1 203.2L404.5 205.5L409.1 207.4L413.8 209.0L418.5 209.9L423.2 209.4L427.9 209.9L432.6 212.6L437.3 218.8L442.0 228.2L446.7 236.8L451.4 243.1L456.1 245.4L460.8 245.9L465.4 249.3L470.0 253.9L474.7 257.8L479.4 260.4L484.1 257.8L488.8 253.1L493.5 249.2L498.2 246.4L502.8 244.5L506.0 246.0L510.7 255.4L515.4 264.0L520.0 272.6L524.7 280.5L529.4 287.5L534.1 297.2L538.8 308.2L543.5 317.5L548.2 326.1L552.9 334.0L556.8 338.6L559.9 339.4L563.8 336.3L568.5 331.6L573.2 326.9L577.9 322.5L581.0 321.0L584.2 322.2L590.4 326.9L596.7 333.2L602.9 341.0L609.2 349.6L613.9 358.2L618.6 367.6L621.9 373.4L626.6 382.8L631.3 389.8L635.2 391.4L639.1 392.2L643.8 396.1L650.1 401.5L656.3 407.0L662.6 411.7L668.9 415.3L675.1 418.0L681.4 420.0L687.6 421.6L691.5 421.1L695.4 415.6L700.0 410.2L704.8 401.5L710.0 396.1L712.5 392.2L718.8 382.8L725.0 375.0L727.4 374.0L732.8 367.6L739.1 360.5L745.4 353.5L751.6 346.5L757.9 339.4L764.1 331.6L770.4 324.6L775.1 320.4L779.8 319.1L784.5 321.0L789.1 325.4L793.8 330.0L800.1 335.5L806.3 340.2L812.6 343.3L818.9 345.7L823.6 346.9L828.2 345.7L832.9 342.6L837.6 337.1L842.3 331.6L847.0 325.4L850.0 322.1L851.7 319.1L854.7 315.8L856.4 314.4L859.4 311.9L864.1 309.5L868.8 308.8L873.5 311.1L878.2 315.8L882.8 322.1L887.5 331.4L892.2 342.4L896.9 354.1L900.8 360.0L904.7 367.8L906.3 374.5L909.4 377.2L911.0 381.5L914.1 385.0L918.8 391.3L923.5 394.7L928.2 396.0L932.9 394.7L937.6 390.5L942.3 383.5L947.0 376.4L951.7 370.9L956.3 367.8L961.0 366.6L965.7 366.3L970.4 367.5L975.1 370.6L979.8 374.4L984.5 378.0L989.2 381.1L993.9 385.0" stroke="#e0203f" stroke-width="0.9" fill="none" stroke-linejoin="round"/>
<text x="10.5" y="9.1" font-family="Liberation Sans, sans-serif" font-size="8.8" font-weight="bold" fill="#111">SLV</text>
<text x="29.6" y="9.0" font-family="Liberation Sans, sans-serif" font-size="7.15" fill="#222">iShares Silver Trust</text>
<text x="95" y="8.9" font-family="Liberation Sans, sans-serif" font-size="6.1" fill="#222" letter-spacing="0.45">NYSE</text>
<text x="10.2" y="16.9" font-family="Liberation Sans, sans-serif" font-size="6.75" fill="#222">30-Jun-2017</text>
<text x="997.5" y="8.2" font-family="Liberation Sans, sans-serif" font-size="7.0" fill="#666" text-anchor="end">©StockCharts.com</text>
<text x="715.8" y="17.2" font-family="Liberation Sans, sans-serif" font-size="7.05" font-weight="bold" fill="#111">Open</text>
<text x="736.4" y="17.2" font-family="Liberation Sans, sans-serif" font-size="6.9" fill="#222">15.72</text>
<text x="757.9" y="17.2" font-family="Liberation Sans, sans-serif" font-size="7.05" font-weight="bold" fill="#111">High</text>
<text x="776.9" y="17.2" font-family="Liberation Sans, sans-serif" font-size="6.9" fill="#222">15.78</text>
<text x="797.2" y="17.2" font-family="Liberation Sans, sans-serif" font-size="7.05" font-weight="bold" fill="#111">Low</text>
<text x="815.5" y="17.2" font-family="Liberation Sans, sans-serif" font-size="6.9" fill="#222">15.70</text>
<text x="836.7" y="17.2" font-family="Liberation Sans, sans-serif" font-size="7.05" font-weight="bold" fill="#111">Close</text>
<text x="859.8" y="17.2" font-family="Liberation Sans, sans-serif" font-size="6.9" fill="#222">15.71</text>
<text x="881" y="17.2" font-family="Liberation Sans, sans-serif" font-size="7.05" font-weight="bold" fill="#111">Volume</text>
<text x="909.8" y="17.2" font-family="Liberation Sans, sans-serif" font-size="6.9" fill="#222">3.8M</text>
<text x="931" y="17.2" font-family="Liberation Sans, sans-serif" font-size="7.05" font-weight="bold" fill="#111">Chg</text>
<text x="947.3" y="17.2" font-family="Liberation Sans, sans-serif" font-size="6.9" fill="#222" textLength="43.2" lengthAdjust="spacingAndGlyphs">-0.02 (-0.13%)</text>
<path d="M992.3 13.4h4.2l-2.1 2.7z" fill="#c8102e"/>
<path d="M12.2 25.6l2.2-5.6 1.3 2.6 1.2-2.1 1.6 5.1z" fill="#5d8a5e" stroke="#444" stroke-width="0.5"/>
<text x="20.5" y="25.7" font-family="DejaVu Sans, sans-serif" font-size="6.2" letter-spacing="0.65" fill="#111" stroke="#111" stroke-width="0.15">RSI(14) 41.97</text>
<path d="M12.5 169.5v4.5M14.3 169v5M16.3 168.8v4.5" stroke="#111" stroke-width="1.3" fill="none"/>
<text x="20.5" y="173.8" font-family="DejaVu Sans, sans-serif" font-size="6.2" letter-spacing="0.65" fill="#111" stroke="#111" stroke-width="0.12">SLV (Daily) 15.71 (30 Jun)</text>
<path d="M12.3 178.7h5.5" stroke="#1a1aa0" stroke-width="1"/>
<text x="19" y="181" font-family="DejaVu Sans, sans-serif" font-size="5.7" fill="#2a2aa8">MA(50) 16.03</text>
<path d="M12.3 186.2h5.5" stroke="#d0103a" stroke-width="1"/>
<text x="19" y="188.5" font-family="DejaVu Sans, sans-serif" font-size="5.7" fill="#d0103a">MA(20) 15.97</text>
<text x="1000.6" y="580.9" font-family="Liberation Sans, sans-serif" font-size="6.6" fill="#222" stroke="#222" stroke-width="0.1">13.2</text>
<text x="1000.6" y="565.6" font-family="Liberation Sans, sans-serif" font-size="6.6" fill="#222" stroke="#222" stroke-width="0.1">13.4</text>
<text x="1000.6" y="550.6" font-family="Liberation Sans, sans-serif" font-size="6.6" fill="#222" stroke="#222" stroke-width="0.1">13.6</text>
<text x="1000.6" y="535.8" font-family="Liberation Sans, sans-serif" font-size="6.6" fill="#222" stroke="#222" stroke-width="0.1">13.8</text>
<text x="1000.6" y="521.2" font-family="Liberation Sans, sans-serif" font-size="6.6" fill="#222" stroke="#222" stroke-width="0.1">14.0</text>
<text x="1000.6" y="506.7" font-family="Liberation Sans, sans-serif" font-size="6.6" fill="#222" stroke="#222" stroke-width="0.1">14.2</text>
<text x="1000.6" y="492.5" font-family="Liberation Sans, sans-serif" font-size="6.6" fill="#222" stroke="#222" stroke-width="0.1">14.4</text>
<text x="1000.6" y="478.5" font-family="Liberation Sans, sans-serif" font-size="6.6" fill="#222" stroke="#222" stroke-width="0.1">14.6</text>
<text x="1000.6" y="464.7" font-family="Liberation Sans, sans-serif" font-size="6.6" fill="#222" stroke="#222" stroke-width="0.1">14.8</text>
<text x="1000.6" y="451.1" font-family="Liberation Sans, sans-serif" font-size="6.6" fill="#222" stroke="#222" stroke-width="0.1">15.0</text>
<text x="1000.6" y="437.6" font-family="Liberation Sans, sans-serif" font-size="6.6" fill="#222" stroke="#222" stroke-width="0.1">15.2</text>
<text x="1000.6" y="424.3" font-family="Liberation Sans, sans-serif" font-size="6.6" fill="#222" stroke="#222" stroke-width="0.1">15.4</text>
<text x="1000.6" y="411.2" font-family="Liberation Sans, sans-serif" font-size="6.6" fill="#222" stroke="#222" stroke-width="0.1">15.6</text>
<text x="1000.6" y="398.3" font-family="Liberation Sans, sans-serif" font-size="6.6" fill="#222" stroke="#222" stroke-width="0.1">15.8</text>
<text x="1000.6" y="372.9" font-family="Liberation Sans, sans-serif" font-size="6.6" fill="#222" stroke="#222" stroke-width="0.1">16.2</text>
<text x="1000.6" y="360.4" font-family="Liberation Sans, sans-serif" font-size="6.6" fill="#222" stroke="#222" stroke-width="0.1">16.4</text>
<text x="1000.6" y="348.1" font-family="Liberation Sans, sans-serif" font-size="6.6" fill="#222" stroke="#222" stroke-width="0.1">16.6</text>
<text x="1000.6" y="336.0" font-family="Liberation Sans, sans-serif" font-size="6.6" fill="#222" stroke="#222" stroke-width="0.1">16.8</text>
<text x="1000.6" y="324.0" font-family="Liberation Sans, sans-serif" font-size="6.6" fill="#222" stroke="#222" stroke-width="0.1">17.0</text>
<text x="1000.6" y="312.1" font-family="Liberation Sans, sans-serif" font-size="6.6" fill="#222" stroke="#222" stroke-width="0.1">17.2</text>
<text x="1000.6" y="300.3" font-family="Liberation Sans, sans-serif" font-size="6.6" fill="#222" stroke="#222" stroke-width="0.1">17.4</text>
<text x="1000.6" y="288.7" font-family="Liberation Sans, sans-serif" font-size="6.6" fill="#222" stroke="#222" stroke-width="0.1">17.6</text>
<text x="1000.6" y="277.2" font-family="Liberation Sans, sans-serif" font-size="6.6" fill="#222" stroke="#222" stroke-width="0.1">17.8</text>
<text x="1000.6" y="265.9" font-family="Liberation Sans, sans-serif" font-size="6.6" fill="#222" stroke="#222" stroke-width="0.1">18.0</text>
<text x="1000.6" y="254.7" font-family="Liberation Sans, sans-serif" font-size="6.6" fill="#222" stroke="#222" stroke-width="0.1">18.2</text>
<text x="1000.6" y="243.6" font-family="Liberation Sans, sans-serif" font-size="6.6" fill="#222" stroke="#222" stroke-width="0.1">18.4</text>
<text x="1000.6" y="232.6" font-family="Liberation Sans, sans-serif" font-size="6.6" fill="#222" stroke="#222" stroke-width="0.1">18.6</text>
<text x="1000.6" y="221.7" font-family="Liberation Sans, sans-serif" font-size="6.6" fill="#222" stroke="#222" stroke-width="0.1">18.8</text>
<text x="1000.6" y="211.0" font-family="Liberation Sans, sans-serif" font-size="6.6" fill="#222" stroke="#222" stroke-width="0.1">19.0</text>
<text x="1000.6" y="200.3" font-family="Liberation Sans, sans-serif" font-size="6.6" fill="#222" stroke="#222" stroke-width="0.1">19.2</text>
<text x="1000.6" y="189.8" font-family="Liberation Sans, sans-serif" font-size="6.6" fill="#222" stroke="#222" stroke-width="0.1">19.4</text>
<text x="1000.6" y="179.4" font-family="Liberation Sans, sans-serif" font-size="6.6" fill="#222" stroke="#222" stroke-width="0.1">19.6</text>
<text x="1001.3" y="151.2" font-family="Liberation Sans, sans-serif" font-size="6.6" fill="#222" stroke="#222" stroke-width="0.1">10</text>
<text x="1001.3" y="123.3" font-family="Liberation Sans, sans-serif" font-size="6.6" fill="#222" stroke="#222" stroke-width="0.1">30</text>
<text x="1001.3" y="95.4" font-family="Liberation Sans, sans-serif" font-size="6.6" fill="#222" stroke="#222" stroke-width="0.1">50</text>
<text x="1001.3" y="67.5" font-family="Liberation Sans, sans-serif" font-size="6.6" fill="#222" stroke="#222" stroke-width="0.1">70</text>
<text x="1001.3" y="39.6" font-family="Liberation Sans, sans-serif" font-size="6.6" fill="#222" stroke="#222" stroke-width="0.1">90</text>
<text x="14.4" y="598" font-family="Liberation Sans, sans-serif" font-size="7.2" font-weight="bold" fill="#111" text-anchor="middle">2016</text>
<text x="63.9" y="597.8" font-family="Liberation Sans, sans-serif" font-size="6.6" fill="#1a1a1a" stroke="#1a1a1a" stroke-width="0.12" text-anchor="middle" letter-spacing="0.35">Feb</text>
<text x="116.0" y="597.8" font-family="Liberation Sans, sans-serif" font-size="6.6" fill="#1a1a1a" stroke="#1a1a1a" stroke-width="0.12" text-anchor="middle" letter-spacing="0.35">Mar</text>
<text x="173.3" y="597.8" font-family="Liberation Sans, sans-serif" font-size="6.6" fill="#1a1a1a" stroke="#1a1a1a" stroke-width="0.12" text-anchor="middle" letter-spacing="0.35">Apr</text>
<text x="228.0" y="597.8" font-family="Liberation Sans, sans-serif" font-size="6.6" fill="#1a1a1a" stroke="#1a1a1a" stroke-width="0.12" text-anchor="middle" letter-spacing="0.35">May</text>
<text x="282.7" y="597.8" font-family="Liberation Sans, sans-serif" font-size="6.6" fill="#1a1a1a" stroke="#1a1a1a" stroke-width="0.12" text-anchor="middle" letter-spacing="0.35">Jun</text>
<text x="339.9" y="597.8" font-family="Liberation Sans, sans-serif" font-size="6.6" fill="#1a1a1a" stroke="#1a1a1a" stroke-width="0.12" text-anchor="middle" letter-spacing="0.35">Jul</text>
<text x="392.0" y="597.8" font-family="Liberation Sans, sans-serif" font-size="6.6" fill="#1a1a1a" stroke="#1a1a1a" stroke-width="0.12" text-anchor="middle" letter-spacing="0.35">Aug</text>
<text x="451.9" y="597.8" font-family="Liberation Sans, sans-serif" font-size="6.6" fill="#1a1a1a" stroke="#1a1a1a" stroke-width="0.12" text-anchor="middle" letter-spacing="0.35">Sep</text>
<text x="506.6" y="597.8" font-family="Liberation Sans, sans-serif" font-size="6.6" fill="#1a1a1a" stroke="#1a1a1a" stroke-width="0.12" text-anchor="middle" letter-spacing="0.35">Oct</text>
<text x="561.3" y="597.8" font-family="Liberation Sans, sans-serif" font-size="6.6" fill="#1a1a1a" stroke="#1a1a1a" stroke-width="0.12" text-anchor="middle" letter-spacing="0.35">Nov</text>
<text x="616.0" y="597.8" font-family="Liberation Sans, sans-serif" font-size="6.6" fill="#1a1a1a" stroke="#1a1a1a" stroke-width="0.12" text-anchor="middle" letter-spacing="0.35">Dec</text>
<text x="670.7" y="598" font-family="Liberation Sans, sans-serif" font-size="7.2" font-weight="bold" fill="#111" text-anchor="middle">2017</text>
<text x="722.7" y="597.8" font-family="Liberation Sans, sans-serif" font-size="6.6" fill="#1a1a1a" stroke="#1a1a1a" stroke-width="0.12" text-anchor="middle" letter-spacing="0.35">Feb</text>
<text x="772.2" y="597.8" font-family="Liberation Sans, sans-serif" font-size="6.6" fill="#1a1a1a" stroke="#1a1a1a" stroke-width="0.12" text-anchor="middle" letter-spacing="0.35">Mar</text>
<text x="832.1" y="597.8" font-family="Liberation Sans, sans-serif" font-size="6.6" fill="#1a1a1a" stroke="#1a1a1a" stroke-width="0.12" text-anchor="middle" letter-spacing="0.35">Apr</text>
<text x="881.6" y="597.8" font-family="Liberation Sans, sans-serif" font-size="6.6" fill="#1a1a1a" stroke="#1a1a1a" stroke-width="0.12" text-anchor="middle" letter-spacing="0.35">May</text>
<text x="938.9" y="597.8" font-family="Liberation Sans, sans-serif" font-size="6.6" fill="#1a1a1a" stroke="#1a1a1a" stroke-width="0.12" text-anchor="middle" letter-spacing="0.35">Jun</text>
<path d="M996.5 104.4l3-3.7h18.5v7.4h-18.5z" fill="#fff" stroke="#333" stroke-width="0.8"/>
<text x="1000.5" y="106.7" font-family="Liberation Sans, sans-serif" font-size="6.6" fill="#222">41.97</text>
<rect x="871" y="31" width="117.5" height="17" fill="#aaa" opacity="0.6"/>
<rect x="869.6" y="29.5" width="117.5" height="17" fill="#fff" stroke="#999" stroke-width="0.8"/>
<path d="M921.5 29.5v17" stroke="#999" stroke-width="0.8"/>
<text x="871.5" y="42" font-family="Liberation Sans, sans-serif" font-size="11.3" font-weight="bold" fill="#d21f45" textLength="47.5" lengthAdjust="spacingAndGlyphs">Sunshine</text>
<text x="923.5" y="42" font-family="Liberation Sans, sans-serif" font-size="11.3" font-weight="bold" fill="#111" textLength="57" lengthAdjust="spacingAndGlyphs">Profits.com</text>
<defs><filter id="sh" x="-5%" y="-5%" width="110%" height="110%"><feGaussianBlur stdDeviation="0.9"/></filter></defs>
<rect x="428.4" y="269.1" width="27.2" height="21.3" fill="none" stroke="#777" stroke-width="1.3" rx="1"/>
<rect x="504.1" y="332.4" width="31.6" height="37.2" fill="none" stroke="#222" stroke-width="0.9"/>
<rect x="581.7" y="391.4" width="23.8" height="34.8" fill="none" stroke="#222" stroke-width="0.9"/>
<rect x="637.0" y="429.6" width="15.7" height="32.6" fill="none" stroke="#222" stroke-width="0.9"/>
<rect x="780.2" y="375" width="21.5" height="17.2" fill="none" stroke="#222" stroke-width="0.9"/>
<rect x="884.4" y="414.4" width="18.3" height="21.5" fill="none" stroke="#222" stroke-width="0.9"/>
<path d="M512.5 563.3L512.5 527L446.6 303.7L513.2 512L520.1 379.1L516.8 522.4L623.5 522.4L597.9 438.6L625 516.5L642.1 471.8L627 522.4L734.5 522.4L790.7 402.6L742 518L885.2 440.1L738.7 526.5L738.7 563.3Z" transform="translate(1.6,1.6)" fill="#666" opacity="0.55" filter="url(#sh)"/>
<path d="M512.5 563.3L512.5 527L446.6 303.7L513.2 512L520.1 379.1L516.8 522.4L623.5 522.4L597.9 438.6L625 516.5L642.1 471.8L627 522.4L734.5 522.4L790.7 402.6L742 518L885.2 440.1L738.7 526.5L738.7 563.3Z" fill="#fff" stroke="#7a7a7a" stroke-width="0.9" stroke-linejoin="miter"/>
<text x="514.6" y="534.4" font-family="Liberation Sans, sans-serif" font-size="10.35" font-weight="bold" fill="#111">Silver losing its downward momentum after</text>
<text x="514.6" y="546.5" font-family="Liberation Sans, sans-serif" font-size="10.35" font-weight="bold" fill="#111">a volatile decline was how practically all</text>
<text x="514.6" y="558.6" font-family="Liberation Sans, sans-serif" font-size="10.35" font-weight="bold" fill="#111">bottoms of the late-2016 decline formed.</text>
<path d="M996.6 385.5l2.6-3.4h19v6.8h-19z" fill="#fff" stroke="#d0103a" stroke-width="0.9"/>
<text x="1000.3" y="387.9" font-family="Liberation Sans, sans-serif" font-size="6.7" fill="#111">15.97</text>
<path d="M996.6 381.7l2.6-3.4h19v6.8h-19z" fill="#fff" stroke="#2020a0" stroke-width="0.9"/>
<text x="1000.3" y="384.1" font-family="Liberation Sans, sans-serif" font-size="6.7" fill="#111">16.03</text>
<path d="M996.6 402.2l2.6-3.4h19v6.8h-19z" fill="#fff" stroke="#111" stroke-width="1.2"/>
<text x="1000.3" y="404.6" font-family="Liberation Sans, sans-serif" font-size="6.7" font-weight="bold" fill="#111">15.71</text>
</svg>
</body></html>
